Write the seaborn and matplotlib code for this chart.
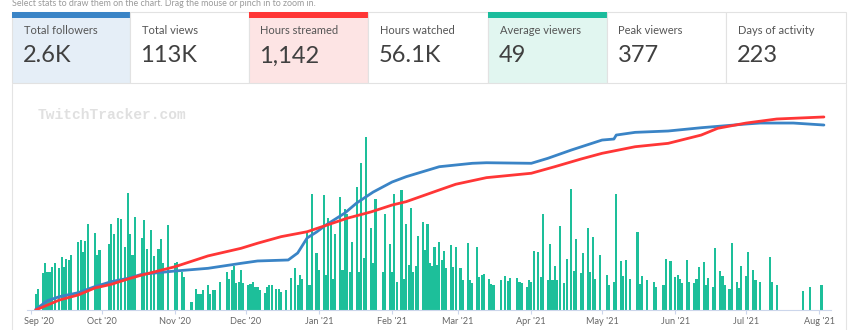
import numpy as np
import pandas as pd
import matplotlib
matplotlib.use("Agg")
import matplotlib.pyplot as plt
from matplotlib.patches import Rectangle
from matplotlib.lines import Line2D
import matplotlib.transforms as mtransforms
import seaborn as sns

# ---------------- data ----------------
START = "2020-09-01"

# days since START on which a stream happened, and the average viewers of that day
stream_day = [2, 3, 5, 6, 7, 8, 9, 10, 12, 13, 14, 15, 16, 17, 20, 21, 22, 23, 24, 27, 28, 29,
              33, 34, 35, 37, 38, 40, 41, 42, 43, 44, 47,
              48, 49, 51, 52, 54, 55, 56, 58, 61, 62, 64, 65, 68, 70, 71, 72, 73, 75, 76, 77, 78,
              80, 83, 84, 85, 86, 87, 88, 89, 90, 92, 93, 94, 95,
              96, 97, 99, 100, 101, 102, 104, 105, 106, 108, 110, 112, 113, 114, 115, 117, 118, 119,
              121, 122, 124, 125, 126, 127, 128, 129, 131, 132, 133, 134, 135, 136, 138, 139, 140,
              141, 142, 144,
              145, 146, 149, 150, 152, 153, 154, 155, 157, 158, 159, 160, 161, 162, 163, 164, 166,
              167, 168, 169, 170, 171, 172, 173, 174, 175, 176, 178, 179, 180, 182, 183, 185, 186,
              187, 189, 190, 191, 192,
              194, 195, 196, 199, 201, 202, 203, 206, 207, 208, 210, 211, 212, 213, 215, 216, 217,
              219, 220, 221, 222, 223, 224, 226, 227, 229, 230, 231, 233, 234, 236, 237, 238, 239, 241,
              244, 245, 247, 248, 250, 251, 252, 254, 257, 258, 259, 261, 264, 265, 268, 269, 271,
              273, 274, 275, 276, 278, 279, 281, 282, 283, 285, 286, 287, 289, 290,
              292, 293, 294, 296, 297, 299, 300, 301, 303, 304, 306, 307, 309, 313, 314, 316, 327,
              330, 335]
avg_viewers = [16, 21, 37, 47, 38, 38, 43, 47, 42, 53, 43, 51, 50, 55, 68, 70, 58, 69, 86, 77, 55, 60,
               66, 86, 76, 92, 91, 63, 117, 76, 55, 93, 72,
               90, 61, 80, 54, 61, 71, 47, 85, 47, 48, 38, 33, 8, 21, 16, 16, 20, 25, 16, 20, 20,
               28, 38, 31, 40, 44, 27, 28, 40, 27, 25, 26, 28, 23,
               23, 20, 17, 23, 25, 25, 21, 21, 18, 20, 32, 42, 25, 35, 31, 79, 25, 116,
               57, 40, 115, 35, 92, 86, 31, 76, 113, 40, 101, 96, 38, 68, 123, 38, 147,
               52, 173, 82,
               47, 111, 38, 96, 66, 38, 116, 28, 120, 31, 86, 45, 102, 38, 44, 74, 88,
               60, 86, 47, 44, 63, 45, 68, 50, 59, 42, 65, 43, 63, 42, 30, 67, 30,
               27, 63, 33, 35, 36,
               31, 26, 25, 30, 34, 29, 32, 32, 28, 27, 23, 30, 28, 59, 58, 33, 96,
               30, 66, 30, 44, 30, 84, 27, 51, 121, 39, 71, 37, 57, 82, 38, 73, 31, 55,
               35, 25, 28, 116, 49, 34, 50, 31, 78, 26, 34, 30, 28, 23, 25, 51, 49,
               33, 35, 31, 27, 50, 28, 27, 31, 43, 48, 25, 32, 23, 62,
               39, 34, 25, 21, 67, 28, 22, 44, 34, 58, 40, 30, 28, 53, 28, 25, 19,
               23, 25]

# cumulative followers (blue) and cumulative hours streamed (red)
followers_day = [2, 7, 12, 20, 27, 34, 41, 47, 61, 75, 89, 96, 109, 113, 117, 121, 125, 133, 138,
                 145, 153, 159, 173, 187, 193, 212, 219, 229, 242, 247, 248, 256, 270, 284, 303,
                 309, 323, 336]
followers_cum = [10, 131, 187, 243, 328, 398, 445, 502, 548, 586, 656, 689, 703, 801, 1012, 1096,
                 1195, 1363, 1504, 1658, 1799, 1874, 2014, 2062, 2070, 2062, 2132, 2249, 2389,
                 2403, 2459, 2497, 2516, 2562, 2614, 2628, 2628, 2600]
hours_day = [2, 12, 20, 27, 34, 41, 47, 61, 75, 89, 96, 106, 117, 134, 144, 153, 159, 173, 180,
             193, 212, 222, 233, 242, 256, 270, 284, 291, 303, 316, 336]
hours_cum = [0, 59, 89, 130, 152, 183, 207, 256, 320, 365, 395, 434, 463, 543, 580, 621, 641, 710,
             744, 783, 809, 848, 893, 927, 966, 986, 1035, 1075, 1106, 1130, 1142]

month_labels = ["Sep '20", "Oct '20", "Nov '20", "Dec '20", "Jan '21", "Feb '21", "Mar '21",
                "Apr '21", "May '21", "Jun '21", "Jul '21", "Aug '21"]

stat_labels = ["Total followers", "Total views", "Hours streamed", "Hours watched",
               "Average viewers", "Peak viewers", "Days of activity"]
stat_values = ["2.6K", "113K", "1,142", "56.1K", "49", "377", "223"]

# ---------------- style ----------------
sns.set_style("white")
plt.rcParams["font.family"] = ["Lato", "DejaVu Sans"]

W, H = 850, 330
fig = plt.figure(figsize=(W / 100, H / 100), dpi=100, facecolor="white")


def fx(x):
    return x / W


def fy(y):
    return 1 - y / H


BLUE = "#3a84c6"
RED = "#ff3636"
GREEN = "#1dbf9a"

# header text
fig.text(fx(12), fy(4), "Select stats to draw them on the chart. Drag the mouse or pinch in to zoom in.",
         fontsize=6.4, color="#9a9a9a", va="center", ha="left")

# stat boxes
edges = [12, 130, 249, 368, 488, 607, 726, 846]
bgs = ["#e5eef7", "white", "#fde4e4", "white", "#e1f6f0", "white", "white"]
tops = [BLUE, None, RED, None, "#1abc9c", None, None]
for i, (lab, val) in enumerate(zip(stat_labels, stat_values)):
    l, r = edges[i], edges[i + 1]
    fig.add_artist(Rectangle((fx(l), fy(83)), fx(r) - fx(l), (83 - 12) / H,
                             facecolor=bgs[i], edgecolor="#e2e2e2", lw=0.8,
                             transform=fig.transFigure))
    if tops[i]:
        fig.add_artist(Rectangle((fx(l), fy(17.5)), fx(r) - fx(l), 5.5 / H,
                                 facecolor=tops[i], edgecolor="none",
                                 transform=fig.transFigure))
    fig.text(fx(l + 11.5), fy(31), lab, fontsize=8, color="#555555", va="center", ha="left")
    fig.text(fx(l + 10.5), fy(56), val, fontsize=17, color="#404040", va="center", ha="left")

# chart container borders
for xx in (12, 846):
    fig.add_artist(Line2D([fx(xx), fx(xx)], [fy(84), fy(330)], color="#e4e4e4", lw=0.8,
                          transform=fig.transFigure))

# watermark
fig.text(fx(38), fy(115), "TwitchTracker.com", family="Liberation Mono", fontsize=10.5,
         color="#e0e0e0", va="center", ha="left", weight="bold")

# ---------------- chart ----------------
ax = fig.add_axes([fx(27), fy(310), fx(831) - fx(27), (310 - 95) / H])
ax.patch.set_alpha(0)

bars = pd.DataFrame({"day": stream_day, "viewers": avg_viewers})
sns.barplot(data=bars, x="day", y="viewers", native_scale=True, color=GREEN, saturation=1,
            width=0.9, errorbar=None, linewidth=0, edgecolor="none", ax=ax)

start = pd.Timestamp(START)
tick_days = (pd.date_range(START, "2021-08-01", freq="MS") - start).days

ax_f = ax.twinx()
sns.lineplot(x=followers_day, y=followers_cum, ax=ax_f, color=BLUE, lw=2.0)
ax_h = ax.twinx()
sns.lineplot(x=hours_day, y=hours_cum, ax=ax_h, color=RED, lw=2.0)

ax.set_ylim(0, 215)
ax_f.set_ylim(0, 3022)
ax_h.set_ylim(0, 1272)
for a in (ax, ax_f, ax_h):
    a.set_xlim(-1.7, 339)
    a.set_yticks([])
    a.set_ylabel("")
    a.set_xlabel("")
    for s in a.spines.values():
        s.set_visible(False)
ax.spines["bottom"].set_visible(True)
ax.spines["bottom"].set_color("#ccd6eb")
ax.spines["bottom"].set_linewidth(0.8)

ax.set_xticks(tick_days)
ax.set_xticklabels(month_labels)
ax.tick_params(axis="x", length=3.2, width=0.8, color="#ccd6eb", labelsize=6.6,
               labelcolor="#666666", pad=1.8, bottom=True)
lbl0 = ax.get_xticklabels()[0]
lbl0.set_transform(lbl0.get_transform() + mtransforms.ScaledTranslation(8 / 100, 0, fig.dpi_scale_trans))

fig.savefig("out.png", dpi=100, facecolor="white")
